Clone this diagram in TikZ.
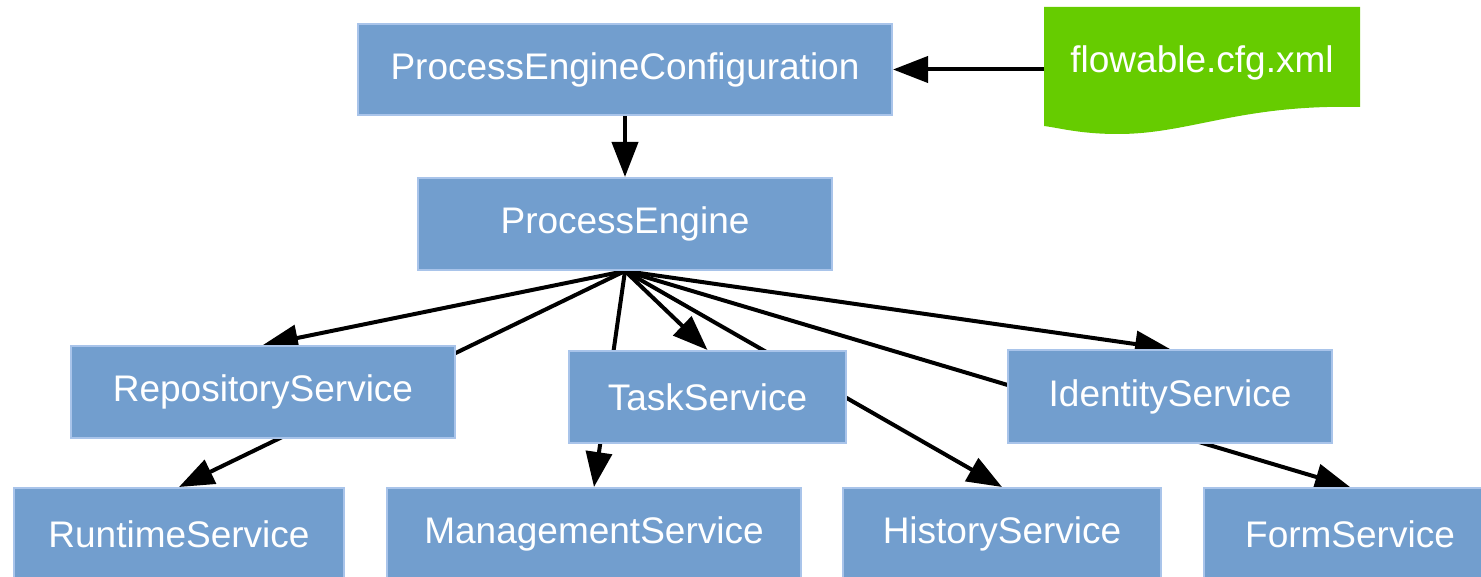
\documentclass[tikz,border=0pt]{standalone}
\usepackage{fontspec}
\setmainfont{Liberation Sans}
\usetikzlibrary{arrows.meta}
\definecolor{boxfill}{HTML}{729ECE}
\definecolor{boxline}{HTML}{A9C4EA}
\definecolor{docgreen}{HTML}{66CC00}
\pgfdeclarelayer{bg}
\pgfsetlayers{bg,main}
\tikzset{
  svc/.style={rectangle, fill=boxfill, draw=boxline, line width=2pt,
    inner sep=0pt, text=white, font=\fontsize{37}{40}\selectfont},
  conn/.style={line width=4pt, draw=black, -{Triangle[length=35pt,width=26pt]}},
}
\begin{document}
\begin{tikzpicture}[x=1pt,y=-1pt]
\useasboundingbox (0,0) rectangle (1481,577);
\clip (0,0) rectangle (1481,577);
% document shape
\fill[docgreen] (1044,7) -- (1360,7) -- (1360,107)
  .. controls (1240,104) and (1190,134) .. (1118,134)
  .. controls (1080,134) and (1060,128) .. (1044,126) -- cycle;
\node[text=white, font=\fontsize{37}{40}\selectfont, minimum width=316pt, minimum height=120pt, inner sep=0pt] (flow) at (1202,63) {flowable.cfg.xml};

\node[svc, minimum width=534pt, minimum height=91pt] (pec) at (625,69.5) {ProcessEngineConfiguration};
\node[svc, minimum width=414pt, minimum height=92pt] (pe) at (625,224) {ProcessEngine};

\node[svc, minimum width=384pt, minimum height=92pt] (repo) at (263,392) {RepositoryService};
\node[svc, minimum width=277pt, minimum height=92pt] (task) at (707.5,397) {TaskService};
\node[svc, minimum width=324pt, minimum height=93pt] (ident) at (1170,396.5) {IdentityService};

\node[svc, minimum width=330pt, minimum height=92pt] (run) at (179,534) {RuntimeService};
\node[svc, minimum width=414pt, minimum height=92pt] (mgmt) at (594,534) {ManagementService};
\node[svc, minimum width=318pt, minimum height=92pt] (hist) at (1002,534) {HistoryService};
\node[svc, minimum width=292pt, minimum height=92pt] (form) at (1350,534) {FormService};

\begin{pgfonlayer}{bg}
\draw[conn] (flow.west |- pec.east) -- (pec.east);
\draw[conn] (pec.south) -- (pe.north);
\draw[conn] (pe.south) -- (repo.north);
\draw[conn] (pe.south) -- (run.north);
\draw[conn] (pe.south) -- (mgmt.north);
\draw[conn] (pe.south) -- (task.north);
\draw[conn] (pe.south) -- (hist.north);
\draw[conn] (pe.south) -- (ident.north);
\draw[conn] (pe.south) -- (form.north);
\end{pgfonlayer}
\end{tikzpicture}
\end{document}
